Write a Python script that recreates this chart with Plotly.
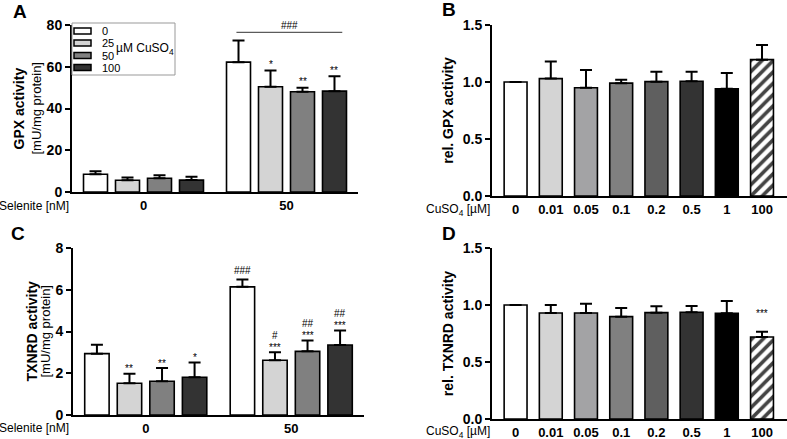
import plotly.graph_objects as go

W, H = 787, 439
FONT = "Liberation Sans"

# ---------------- data ----------------
selenite_groups = ["0", "50"]
cuso4_levels_A = ["0", "25", "50", "100"]
colors_A = ["#ffffff", "#d4d4d4", "#808080", "#333333"]

gpx_mean = {"0": [8.5, 5.6, 6.6, 5.7], "50": [62.2, 50.4, 48.0, 48.3]}
gpx_sd = {"0": [1.4, 1.4, 1.4, 1.6], "50": [10.4, 7.8, 1.9, 7.2]}
gpx_sig = {"0": ["", "", "", ""], "50": ["", "*", "**", "**"]}

txnrd_mean = {"0": [2.94, 1.52, 1.62, 1.81], "50": [6.14, 2.62, 3.05, 3.35]}
txnrd_sd = {"0": [0.43, 0.46, 0.63, 0.71], "50": [0.35, 0.39, 0.52, 0.70]}
txnrd_sig = {"0": ["", "**", "**", "*"], "50": ["", "***", "***", "***"]}
txnrd_hash = {"0": ["", "", "", ""], "50": ["###", "#", "##", "##"]}

cuso4_cats = ["0", "0.01", "0.05", "0.1", "0.2", "0.5", "1", "100"]
colors_B = ["#ffffff", "#d4d4d4", "#a3a3a5", "#808080", "#5f5f5f", "#333333", "#000000", "#ffffff"]
patterns_B = ["", "", "", "", "", "", "", "/"]

relgpx_mean = [1.0, 1.03, 0.95, 0.99, 1.003, 1.006, 0.94, 1.196]
relgpx_sd = [0.0, 0.15, 0.155, 0.03, 0.087, 0.084, 0.14, 0.129]

reltx_mean = [1.0, 0.93, 0.93, 0.898, 0.933, 0.936, 0.927, 0.719]
reltx_sd = [0.0, 0.07, 0.08, 0.076, 0.055, 0.055, 0.108, 0.047]
reltx_sig = ["", "", "", "", "", "", "", "***"]


def px(x):
    return x / W


def py(y):
    return 1 - y / H


fig = go.Figure()

BARGAP_G = 0.105
BARGROUPGAP = 0.25
bar_line = dict(color="black", width=1.6)


def err(sd):
    return dict(type="data", symmetric=False, array=sd, arrayminus=[0] * len(sd),
                color="black", thickness=2, width=6)


# ---- panels A and C (grouped) ----
for (means, sds, xa, ya) in [
    (gpx_mean, gpx_sd, "x", "y"),
    (txnrd_mean, txnrd_sd, "x3", "y3"),
]:
    for j, lev in enumerate(cuso4_levels_A):
        fig.add_trace(go.Bar(
            x=selenite_groups,
            y=[means[g][j] for g in selenite_groups],
            error_y=err([sds[g][j] for g in selenite_groups]),
            name=lev, showlegend=False,
            marker=dict(color=colors_A[j], line=bar_line),
            xaxis=xa, yaxis=ya, offsetgroup=str(j),
        ))

# ---- panels B and D ----
for (means, sds, xa, ya) in [(relgpx_mean, relgpx_sd, "x2", "y2"),
                             (reltx_mean, reltx_sd, "x4", "y4")]:
    fig.add_trace(go.Bar(
        x=cuso4_cats, y=means, error_y=err(sds), showlegend=False,
        marker=dict(color=colors_B, line=bar_line,
                    pattern=dict(shape=patterns_B, fgcolor="black", bgcolor="white",
                                 fgopacity=1, size=8, solidity=0.45)),
        xaxis=xa, yaxis=ya, width=0.65,
    ))

xtickfont = dict(family=FONT, size=13, color="black")
ytickfont = dict(family=FONT, size=14, color="black")
axis_common = dict(showline=True, linecolor="black", linewidth=2, showgrid=False,
                   zeroline=False, automargin=False)
xcommon = dict(axis_common, ticks="", type="category", tickprefix="<b>", ticksuffix="</b>",
               tickfont=xtickfont)
ycommon = dict(axis_common, ticks="outside", ticklen=5, tickwidth=2, tickcolor="black",
               tickprefix="<b>", ticksuffix="</b>", tickfont=ytickfont)

title_font = dict(family=FONT, size=14, color="black")

fig.update_layout(
    width=W, height=H, autosize=False,
    margin=dict(l=0, r=0, t=0, b=0, autoexpand=False),
    paper_bgcolor="white", plot_bgcolor="white",
    barmode="group", bargap=BARGAP_G, bargroupgap=BARGROUPGAP,
    font=dict(family=FONT, color="black"),
    showlegend=False,
    xaxis=dict(xcommon, domain=[px(72), px(358)], range=[-0.5, 1.5], anchor="y"),
    yaxis=dict(ycommon, domain=[py(192), py(25)], range=[0, 80], dtick=20, anchor="x"),
    xaxis2=dict(xcommon, domain=[px(492), 1], range=[-0.67, 7.71], anchor="y2"),
    yaxis2=dict(ycommon, domain=[py(196), py(25)], range=[0, 1.5], dtick=0.5, tickformat=".1f",
                anchor="x2",
                title=dict(text="<b>rel. GPX activity</b>", font=title_font, standoff=6)),
    xaxis3=dict(xcommon, domain=[px(73), px(364)], range=[-0.5, 1.5], anchor="y3"),
    yaxis3=dict(ycommon, domain=[py(415), py(248)], range=[0, 8], dtick=2, anchor="x3"),
    xaxis4=dict(xcommon, domain=[px(492), 1], range=[-0.67, 7.71], anchor="y4"),
    yaxis4=dict(ycommon, domain=[py(419), py(248)], range=[0, 1.5], dtick=0.5, tickformat=".1f",
                anchor="x4",
                title=dict(text="<b>rel. TXNRD activity</b>", font=title_font, standoff=6)),
)

ann = []
slot = (1 - BARGAP_G) / 4
sig_font = dict(family=FONT, size=10, color="black")


def add_sig(xref, yref, gi, j, yval, text, yshift):
    if not text:
        return
    ann.append(dict(xref=xref, yref=yref, x=gi + (j - 1.5) * slot, y=yval, text=text,
                    showarrow=False, yanchor="middle", yshift=yshift, font=sig_font))


for gi, g in enumerate(selenite_groups):
    for j in range(4):
        top = gpx_mean[g][j] + gpx_sd[g][j]
        add_sig("x", "y", gi, j, top, gpx_sig[g][j], 6)
        top = txnrd_mean[g][j] + txnrd_sd[g][j]
        add_sig("x3", "y3", gi, j, top, txnrd_sig[g][j], 5)
        add_sig("x3", "y3", gi, j, top, txnrd_hash[g][j], 17 if txnrd_sig[g][j] else 9)

for i, t in enumerate(reltx_sig):
    if t:
        ann.append(dict(xref="x4", yref="y4", x=i, y=reltx_mean[i] + reltx_sd[i],
                        text=t, showarrow=False, yanchor="middle", yshift=18, font=sig_font))

# ### bracket over selenite 50 group in panel A
ann.append(dict(xref="x", yref="y", x=1 + 0.02, y=76.5, text="###", showarrow=False,
                yanchor="middle", yshift=7, font=sig_font))
fig.add_shape(type="line", xref="x", yref="y", x0=1 - 0.35, x1=1 + 0.39, y0=76.5, y1=76.5,
              line=dict(color="#333333", width=1))

# two-line y titles of panels A and C
for (bold, xb, xr, yc) in [("GPX activity", 18, 36, 108.5), ("TXNRD activity", 31, 45, 331.5)]:
    ann.append(dict(xref="paper", yref="paper", x=px(xb), y=py(yc), text="<b>%s</b>" % bold,
                    textangle=-90, showarrow=False, xanchor="center", yanchor="middle",
                    font=dict(family=FONT, size=14, color="black")))
    ann.append(dict(xref="paper", yref="paper", x=px(xr), y=py(yc), text="[mU/mg protein]",
                    textangle=-90, showarrow=False, xanchor="center", yanchor="middle",
                    font=dict(family=FONT, size=13, color="black")))

# manual legend for panel A
fig.add_shape(type="rect", xref="paper", yref="paper", x0=px(72), x1=px(175), y0=py(75), y1=py(23),
              line=dict(color="#999999", width=1), fillcolor="white", layer="above")
legend_rows = [31, 43, 55.5, 67.5]
for j, lev in enumerate(cuso4_levels_A):
    yc = legend_rows[j]
    fig.add_shape(type="rect", xref="paper", yref="paper", x0=px(74), x1=px(91),
                  y0=py(yc + 3), y1=py(yc - 3), fillcolor=colors_A[j],
                  line=dict(color="black", width=1.5), layer="above")
    ann.append(dict(xref="paper", yref="paper", x=px(100), y=py(yc), text=lev, showarrow=False,
                    xanchor="left", yanchor="middle",
                    font=dict(family=FONT, size=11, color="black")))
ann.append(dict(xref="paper", yref="paper", x=px(114), y=py(49), text="µM CuSO<sub>4</sub>",
                showarrow=False, xanchor="left", yanchor="middle",
                font=dict(family=FONT, size=12, color="black")))

# axis row labels
for yy in (206, 428):
    ann.append(dict(xref="paper", yref="paper", x=px(71), y=py(yy), text="Selenite [nM]",
                    showarrow=False, xanchor="right", yanchor="middle",
                    font=dict(family=FONT, size=12, color="black")))
for yy in (210, 432):
    ann.append(dict(xref="paper", yref="paper", x=px(492), y=py(yy), text="CuSO<sub>4</sub> [µM]",
                    showarrow=False, xanchor="right", yanchor="middle",
                    font=dict(family=FONT, size=12, color="black")))

# panel letters
for letter, xx, yy in [("A", 20, 12), ("B", 449, 10), ("C", 18, 233), ("D", 449, 233)]:
    ann.append(dict(xref="paper", yref="paper", x=px(xx), y=py(yy), text="<b>%s</b>" % letter,
                    showarrow=False, xanchor="center", yanchor="middle",
                    font=dict(family=FONT, size=19, color="black")))

fig.update_layout(annotations=ann)
fig.write_html("out.html", config={"displayModeBar": False},
               post_script="document.body.style.margin='0px';document.body.style.overflow='hidden';")
